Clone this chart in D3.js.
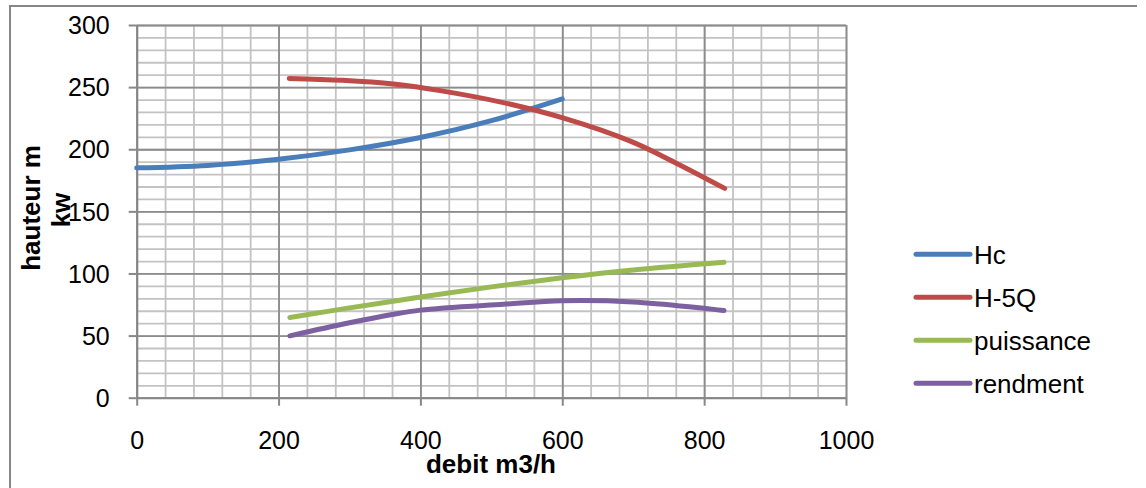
<!DOCTYPE html>
<html>
<head>
<meta charset="utf-8">
<script src="https://cdn.jsdelivr.net/npm/d3@7"></script>
<style>
  html, body { margin: 0; padding: 0; background: #fff; }
  svg { display: block; font-family: "Liberation Sans", Arial, sans-serif; }
</style>
</head>
<body>
<svg id="chart" width="1146" height="488"></svg>
<script>
// Pump curves: flow (m3/h) vs head / power / efficiency
const seriesNames = ["Hc", "H-5Q", "puissance", "rendment"];
const seriesColors = ["#4a7ebb", "#be4b48", "#98b954", "#7d60a0"];

const hcFlow = [0, 100, 200, 300, 400, 500, 600];
const hcValues = [185, 187, 192, 199.5, 209.5, 223, 240.5];

const h5qFlow = [215, 290, 362, 430, 517, 602, 696, 760, 829];
const h5qValues = [257, 255.5, 252.5, 247, 237.5, 225, 206.5, 189, 168.5];

const puissanceFlow = [216, 300, 400, 500, 600, 700, 828];
const puissanceValues = [64.5, 72.3, 81, 89.2, 96.5, 102.8, 109];

const rendmentFlow = [216, 300, 360, 400, 517, 600, 700, 828];
const rendmentValues = [49.8, 60.3, 67, 70.5, 75.2, 78, 77, 70.2];

const xTicks = [0, 200, 400, 600, 800, 1000];
const yTicks = [0, 50, 100, 150, 200, 250, 300];

const svg = d3.select("#chart");
const W = 1146, H = 488;
svg.append("rect").attr("width", W).attr("height", H).attr("fill", "#fff");

// chart frame
svg.append("path")
  .attr("d", "M10,490V6H1137")
  .attr("fill", "none").attr("stroke", "#878787").attr("stroke-width", 2);

const x = d3.scaleLinear().domain([0, 1000]).range([136.7, 846]);
const y = d3.scaleLinear().domain([0, 300]).range([397.7, 25]);

const plot = svg.append("g");

// minor grid
plot.append("g").attr("transform", `translate(0,${y(0)})`)
  .call(d3.axisBottom(x).tickValues(d3.range(0, 1001, 40)).tickSize(-(y(0) - y(300))).tickFormat(""))
  .call(g => g.select(".domain").remove())
  .call(g => g.selectAll("line").attr("stroke", "#c3c3c3").attr("stroke-width", 1.8));
plot.append("g").attr("transform", `translate(${x(0)},0)`)
  .call(d3.axisLeft(y).tickValues(d3.range(0, 301, 10)).tickSize(-(x(1000) - x(0))).tickFormat(""))
  .call(g => g.select(".domain").remove())
  .call(g => g.selectAll("line").attr("stroke", "#c3c3c3").attr("stroke-width", 1.8));

// major grid
plot.append("g").attr("transform", `translate(0,${y(0)})`)
  .call(d3.axisBottom(x).tickValues(xTicks).tickSize(-(y(0) - y(300))).tickFormat(""))
  .call(g => g.select(".domain").remove())
  .call(g => g.selectAll("line").attr("stroke", "#8c8c8c").attr("stroke-width", 1.8));
plot.append("g").attr("transform", `translate(${x(0)},0)`)
  .call(d3.axisLeft(y).tickValues(yTicks).tickSize(-(x(1000) - x(0))).tickFormat(""))
  .call(g => g.select(".domain").remove())
  .call(g => g.selectAll("line").attr("stroke", "#8c8c8c").attr("stroke-width", 1.8));

// axes
const yAxis = plot.append("g").attr("transform", `translate(${x(0)},0)`)
  .call(d3.axisLeft(y).tickValues(yTicks).tickFormat(d3.format("d")).tickSize(8).tickPadding(19).tickSizeOuter(0));
yAxis.select(".domain").attr("stroke", "#878787").attr("stroke-width", 2);
yAxis.selectAll("line").attr("stroke", "#878787").attr("stroke-width", 2);
yAxis.selectAll("text").attr("font-size", 25).attr("fill", "#000")
  .attr("font-family", "Liberation Sans, Arial, sans-serif").attr("dy", "0.35em");

const xAxis = plot.append("g").attr("transform", `translate(0,${y(0)})`)
  .call(d3.axisBottom(x).tickValues(xTicks).tickFormat(d3.format("d")).tickSize(8).tickPadding(26).tickSizeOuter(0));
xAxis.select(".domain").attr("stroke", "#878787").attr("stroke-width", 2);
xAxis.selectAll("line").attr("stroke", "#878787").attr("stroke-width", 2);
xAxis.selectAll("text").attr("font-size", 25).attr("fill", "#000")
  .attr("font-family", "Liberation Sans, Arial, sans-serif").attr("dy", "0.71em");

// series
const series = [
  { flow: hcFlow, values: hcValues },
  { flow: h5qFlow, values: h5qValues },
  { flow: puissanceFlow, values: puissanceValues },
  { flow: rendmentFlow, values: rendmentValues }
];
const line = d3.line().x(d => x(d[0])).y(d => y(d[1])).curve(d3.curveCatmullRom.alpha(0.5));
series.forEach((s, i) => {
  plot.append("path")
    .datum(s.flow.map((f, k) => [f, s.values[k]]))
    .attr("d", line)
    .attr("fill", "none")
    .attr("stroke", seriesColors[i])
    .attr("stroke-width", 5)
    .attr("stroke-linecap", "round")
    .attr("stroke-linejoin", "round");
});

// axis titles
svg.append("text")
  .attr("transform", "translate(40,208) rotate(-90)")
  .attr("text-anchor", "middle")
  .attr("font-size", 26).attr("font-weight", "bold")
  .text("hauteur m");
svg.append("text")
  .attr("transform", "translate(70,210) rotate(-90)")
  .attr("text-anchor", "middle")
  .attr("font-size", 26).attr("font-weight", "bold")
  .text("kw");
svg.append("text")
  .attr("x", 491).attr("y", 473)
  .attr("text-anchor", "middle")
  .attr("font-size", 26).attr("font-weight", "bold")
  .text("debit m3/h");

// legend
const legend = svg.append("g");
seriesNames.forEach((name, i) => {
  const ly = 254.3 + i * 43;
  legend.append("line")
    .attr("x1", 916).attr("x2", 970).attr("y1", ly).attr("y2", ly)
    .attr("stroke", seriesColors[i]).attr("stroke-width", 5).attr("stroke-linecap", "round");
  legend.append("text")
    .attr("x", 974).attr("y", ly + 10)
    .attr("font-size", 26).attr("fill", "#000")
    .text(name);
});
</script>
</body>
</html>
